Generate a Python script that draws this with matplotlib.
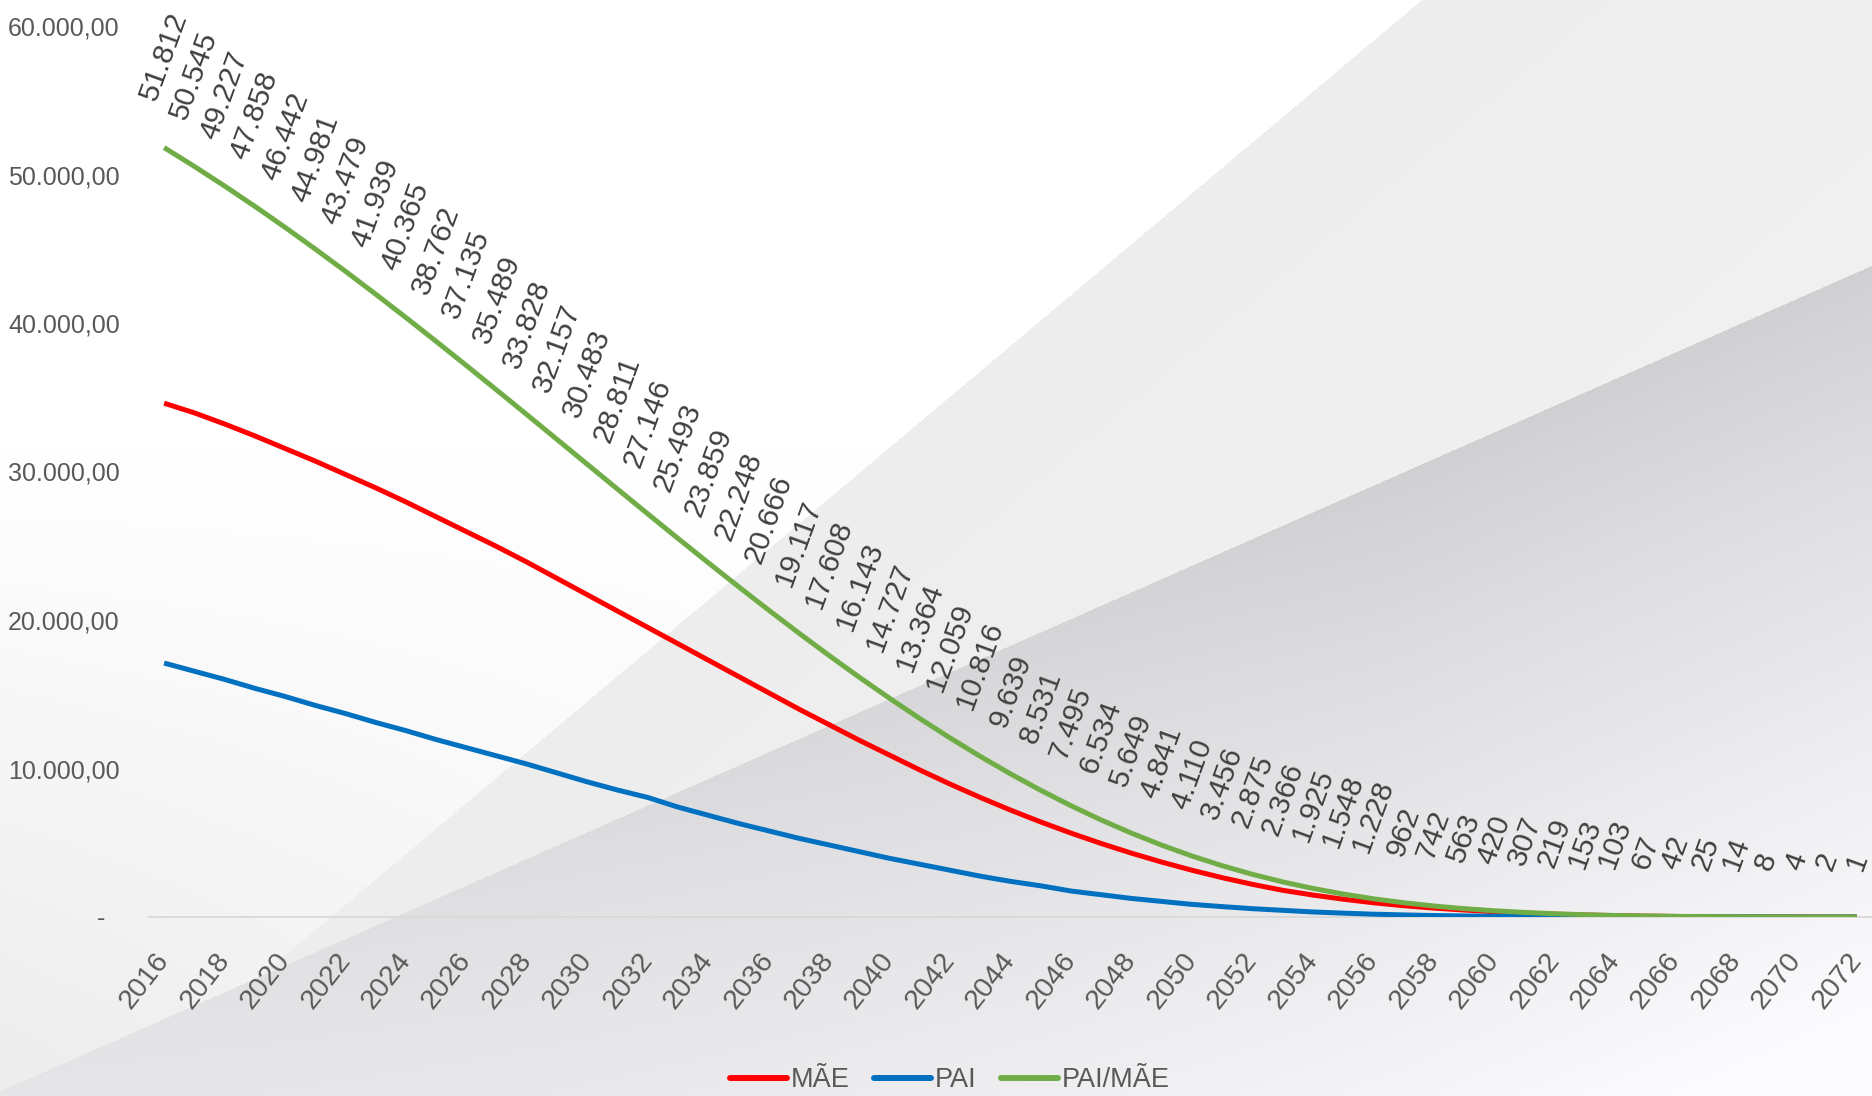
import numpy as np
import matplotlib
matplotlib.use('Agg')
import matplotlib.pyplot as plt
from matplotlib.lines import Line2D

# ---------------- data ----------------
years = list(range(2016, 2073))

pai_mae = [51812, 50545, 49227, 47858, 46442, 44981, 43479, 41939, 40365, 38762,
           37135, 35489, 33828, 32157, 30483, 28811, 27146, 25493, 23859, 22248,
           20666, 19117, 17608, 16143, 14727, 13364, 12059, 10816, 9639, 8531,
           7495, 6534, 5649, 4841, 4110, 3456, 2875, 2366, 1925, 1548,
           1228, 962, 742, 563, 420, 307, 219, 153, 103, 67,
           42, 25, 14, 8, 4, 2, 1]

mae = [34600, 33950, 33200, 32400, 31550, 30700, 29800, 28900, 27950, 26950,
       25950, 24950, 23900, 22800, 21700, 20600, 19500, 18400, 17300, 16200,
       15100, 14000, 12950, 11900, 10900, 9900, 8950, 8050, 7200, 6400,
       5650, 4950, 4300, 3700, 3150, 2650, 2200, 1800, 1480, 1200,
       960, 760, 600, 470, 360, 265, 190, 135, 92, 60,
       38, 23, 13, 7, 4, 2, 1]

pai = [17100, 16550, 16000, 15400, 14850, 14250, 13700, 13100, 12550, 11950,
       11400, 10850, 10300, 9700, 9100, 8550, 8050, 7400, 6850, 6300,
       5800, 5300, 4850, 4400, 3950, 3550, 3150, 2750, 2400, 2100,
       1750, 1500, 1250, 1050, 850, 700, 560, 450, 340, 260,
       190, 140, 100, 70, 50, 35, 25, 15, 10, 6,
       4, 2, 1, 1, 0, 0, 0]

series_names = ['MÃE', 'PAI', 'PAI/MÃE']
series_colors = ['#ff0000', '#0070c0', '#70ad47']

ytick_vals = [0, 10000, 20000, 30000, 40000, 50000, 60000]
xtick_years = list(range(2016, 2073, 2))


def br_int(v):
    return f"{v:,}".replace(',', '.')


def br_dec(v):
    if v == 0:
        return '-  '
    s = f"{v:,.2f}"
    return s.replace(',', '#').replace('.', ',').replace('#', '.')


# ---------------- figure ----------------
W, H = 1872, 1096
fig = plt.figure(figsize=(W / 100, H / 100), dpi=100)

# decorative background (grey diagonal bands)
yy, xx = np.mgrid[0:H, 0:W].astype(float)
val = np.ones((H, W))
# soft grey toward lower left
val -= 0.07 * np.clip((yy - 450) / 600, 0, 1) * np.clip(1 - xx / 1200, 0, 1)
# light wedge right of steep line L1
l1x = 330 + (917 - yy) * (1091 / 917)
d1 = (xx - l1x) * 0.64
wedge = d1 > 0
wedgeval = 0.93 + 0.025 * np.clip(d1 / 900, 0, 1)
val = np.where(wedge, wedgeval, val)
# darker band below shallow line L2
l2y = 917 - 0.441 * (xx - 394)
d2 = (yy - l2y) * 0.915
band = d2 > 0
edge = 0.90 - 0.085 * np.clip(xx / 1400, 0, 1)
bandval = edge + (0.99 - edge) * np.clip(d2 / 700, 0, 1) ** 0.85
val = np.where(band, bandval, val)
rgb = np.stack([val, val, np.clip(val + np.where(band, 0.012, 0), 0, 1)], axis=-1)

bg = fig.add_axes([0, 0, 1, 1], zorder=0)
bg.imshow(rgb, extent=(0, W, H, 0), aspect='auto', interpolation='bilinear')
bg.set_xlim(0, W)
bg.set_ylim(H, 0)
bg.axis('off')

ax = fig.add_axes([149 / W, 179 / H, 1723 / W, 891 / H], zorder=1)
ax.patch.set_alpha(0)

fam = ['Liberation Sans', 'DejaVu Sans']

for vals, name, col in zip([mae, pai, pai_mae], series_names, series_colors):
    ax.plot(years, vals, color=col, lw=3.6, solid_capstyle='butt',
            solid_joinstyle='round', label=name, zorder=3)

for x, v in zip(years, pai_mae):
    ax.annotate(br_int(v), (x, v), xytext=(0, 31), textcoords='offset points',
                rotation=70, ha='center', va='bottom', fontsize=21.5,
                color='#404040', family=fam, annotation_clip=False, zorder=4)

ax.set_xlim(2015.5, 2072.5)
ax.set_ylim(0, 60000)

ax.set_yticks(ytick_vals)
ax.set_yticklabels([br_dec(v) for v in ytick_vals], family=fam,
                   fontsize=18, color='#595959')
ax.set_xticks(xtick_years)
ax.set_xticklabels([str(y) for y in xtick_years], family=fam,
                   fontsize=20.5, color='#595959', rotation=52,
                   ha='right', va='center', rotation_mode='anchor')
ax.tick_params(axis='y', length=0, pad=21)
ax.tick_params(axis='x', length=0, pad=28)

for s in ['top', 'right', 'left']:
    ax.spines[s].set_visible(False)
ax.spines['bottom'].set_color('#d9d9d9')
ax.spines['bottom'].set_linewidth(1.3)

handles = [Line2D([], [], color=c, lw=4.3, solid_capstyle='round')
           for c in series_colors]
fig.legend(handles, series_names, loc='center', bbox_to_anchor=(950 / W, 1 - 1080 / H),
           ncol=3, frameon=False, borderpad=0, handlelength=2.1,
           handletextpad=0.15, columnspacing=0.9,
           prop={'family': fam, 'size': 19.5}, labelcolor='#595959')

fig.savefig('out.png', dpi=100)
